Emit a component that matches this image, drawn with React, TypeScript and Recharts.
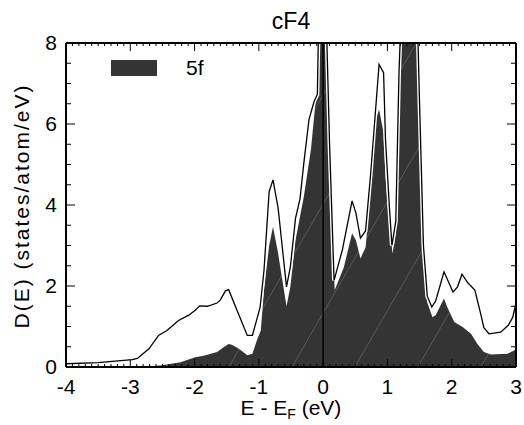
import { ComposedChart, Area, Line, XAxis, YAxis, ReferenceLine } from "recharts";

// total DOS (outline)
const energyTotal = [
  -4.0, -3.5, -2.97, -2.89, -2.71, -2.56, -2.43, -2.25, -2.09, -1.99, -1.92, -1.8, -1.65, -1.6, -1.52, -1.47,
  -1.34, -1.18, -1.1, -0.98, -0.92, -0.84, -0.78, -0.7, -0.57, -0.51, -0.43, -0.36, -0.3, -0.22, -0.14, -0.09,
  -0.06, 0.02, 0.05, 0.1, 0.17, 0.3, 0.45, 0.51, 0.58, 0.66, 0.74, 0.82, 0.87, 0.94, 0.97, 1.03, 1.07, 1.13,
  1.18, 1.22, 1.35, 1.46, 1.5, 1.56, 1.62, 1.69, 1.75, 1.88, 2.02, 2.09, 2.16, 2.25, 2.36, 2.45, 2.5, 2.58,
  2.76, 2.88, 2.95, 3.0,
];
const dosTotal = [
  0.08, 0.11, 0.18, 0.21, 0.45, 0.78, 0.9, 1.15, 1.28, 1.4, 1.51, 1.5, 1.58, 1.65, 1.88, 1.91,
  1.4, 0.78, 0.78, 1.48, 2.39, 4.33, 4.62, 3.92, 1.98, 2.47, 3.67, 4.15, 5.04, 6.11, 6.56, 6.73,
  9.5, 10, 8.5, 5.5, 2.14, 2.9, 4.1, 3.8, 3.18, 3.36, 4.79, 6.44, 7.47, 7.27, 5.61, 3.96, 3.0, 3.6,
  7.27, 9, 10, 9, 6.5, 3.0, 1.75, 1.48, 1.63, 2.35, 1.85, 1.98, 2.29, 2.08, 1.9, 1.32, 0.97, 0.82,
  0.86, 1.03, 1.23, 1.58,
];

// 5f projected DOS (filled)
const energy5f = [
  -4.0, -3.0, -2.8, -2.53, -2.22, -1.99, -1.86, -1.65, -1.55, -1.47, -1.42, -1.31, -1.18, -1.1, -1.03, -0.97,
  -0.92, -0.84, -0.78, -0.7, -0.57, -0.51, -0.43, -0.3, -0.19, -0.12, -0.07, -0.05, 0.02, 0.04, 0.1, 0.18,
  0.32, 0.45, 0.51, 0.58, 0.66, 0.74, 0.82, 0.87, 0.94, 0.97, 1.03, 1.08, 1.13, 1.21, 1.3, 1.44, 1.5, 1.55,
  1.62, 1.7, 1.75, 1.88, 1.93, 2.04, 2.17, 2.3, 2.4, 2.5, 2.61, 2.87, 2.97, 3.0,
];
const dos5f = [
  0, 0, 0.01, 0.04, 0.12, 0.24, 0.28, 0.37, 0.49, 0.57, 0.55, 0.45, 0.29, 0.33, 0.66, 0.9,
  1.9, 3.0, 3.46, 2.8, 1.5, 1.98, 3.13, 4.21, 5.37, 6.52, 7.0, 9, 10, 8.5, 5.0, 1.9,
  2.45, 3.3, 3.13, 2.68, 2.95, 4.37, 6.11, 6.36, 5.78, 4.7, 3.46, 2.8, 3.3, 8.2, 10, 9, 6.5, 2.7,
  1.6, 1.23, 1.28, 1.69, 1.48, 1.11, 0.99, 0.82, 0.57, 0.37, 0.31, 0.33, 0.41, 0.45,
];

const X_MIN = -4;
const X_MAX = 3;
const Y_MIN = 0;
const Y_MAX = 8;
const xMajor = [-4, -3, -2, -1, 0, 1, 2, 3];
const yMajor = [0, 2, 4, 6, 8];

const xMinor: number[] = [];
for (let i = -40; i <= 30; i++) xMinor.push(i / 10);
const yMinor: number[] = [];
for (let i = 0; i <= 16; i++) yMinor.push(i / 2);

const totalData = energyTotal.map((e, i) => ({ e, total: dosTotal[i] }));
const fData = energy5f.map((e, i) => ({ e, f: dos5f[i] }));

const FONT = "'Liberation Sans', Arial, sans-serif";
const isMajor = (v: number, step: number) => Math.abs(v / step - Math.round(v / step)) < 1e-6;

// bottom axis: labels at integers, inward ticks every 0.1
const BottomTick = (p: any) => {
  const v = p.payload.value;
  const major = isMajor(v, 1);
  return (
    <g>
      <path d={`M${p.x},${p.y}v${major ? -8 : -3}`} stroke="#000" strokeWidth={1} fill="none" />
      {major && (
        <text x={p.x} y={p.y + 27} textAnchor="middle" fontSize={21} fontFamily={FONT} fill="#000">
          {Math.round(v)}
        </text>
      )}
    </g>
  );
};

// left axis: labels every 2, inward ticks every 0.5
const LeftTick = (p: any) => {
  const v = p.payload.value;
  const major = isMajor(v, 2);
  return (
    <g>
      <path d={`M${p.x},${p.y}h${major ? 9 : 5}`} stroke="#000" strokeWidth={1} fill="none" />
      {major && (
        <text x={p.x - 9} y={p.y + 7} textAnchor="end" fontSize={21} fontFamily={FONT} fill="#000">
          {Math.round(v)}
        </text>
      )}
    </g>
  );
};

export default function App() {
  return (
    <div style={{ position: "absolute", left: 0, top: 0, width: 524, height: 425 }}>
      <ComposedChart width={524} height={425} margin={{ top: 43, right: 8, left: 0, bottom: 0 }}>
        <defs>
          <pattern id="hatch" patternUnits="userSpaceOnUse" width={63} height={109}>
            <rect width={63} height={109} fill="#343434" />
            <line x1={0} y1={109} x2={63} y2={0} stroke="#7a7a7a" strokeWidth={0.5} />
          </pattern>
        </defs>
        <XAxis
          dataKey="e"
          type="number"
          domain={[X_MIN, X_MAX]}
          allowDataOverflow
          ticks={xMinor}
          interval={0}
          tick={<BottomTick />}
          tickLine={false}
          tickSize={0}
          tickMargin={0}
          height={58}
          stroke="#000"
          strokeWidth={2}
        />
        <YAxis
          type="number"
          domain={[Y_MIN, Y_MAX]}
          allowDataOverflow
          ticks={yMinor}
          interval={0}
          tick={<LeftTick />}
          tickLine={false}
          tickSize={0}
          tickMargin={0}
          width={66}
          stroke="#000"
          strokeWidth={2}
        />
        <Area
          data={fData}
          dataKey="f"
          type="linear"
          fill="url(#hatch)"
          fillOpacity={1}
          stroke="none"
          baseValue={0}
          isAnimationActive={false}
        />
        <Line data={totalData} dataKey="total" type="linear" stroke="#fff" strokeWidth={4} dot={false} isAnimationActive={false} />
        <Line data={totalData} dataKey="total" type="linear" stroke="#000" strokeWidth={1.3} dot={false} isAnimationActive={false} />
        <ReferenceLine x={0} stroke="#000" strokeWidth={1.5} />
        <ReferenceLine y={Y_MAX} stroke="#000" strokeWidth={2} ifOverflow="extendDomain" />
        <ReferenceLine x={X_MAX} stroke="#000" strokeWidth={2} ifOverflow="extendDomain" />
        {xMinor.map((v) => (
          <ReferenceLine
            key={`t${v}`}
            stroke="#000"
            strokeWidth={1}
            ifOverflow="extendDomain"
            segment={[{ x: v, y: Y_MAX }, { x: v, y: Y_MAX - (isMajor(v, 1) ? 0.2 : 0.075) }]}
          />
        ))}
        {yMinor.map((v) => (
          <ReferenceLine
            key={`r${v}`}
            stroke="#000"
            strokeWidth={1}
            ifOverflow="extendDomain"
            segment={[{ x: X_MAX, y: v }, { x: X_MAX - (isMajor(v, 2) ? 0.14 : 0.078), y: v }]}
          />
        ))}
      </ComposedChart>
      <div style={{ position: "absolute", left: 0, width: 582, top: 8, textAlign: "center", fontFamily: FONT, fontSize: 23, lineHeight: "26px" }}>cF4</div>
      <div style={{ position: "absolute", left: 111, top: 60, width: 46, height: 16, background: "#343434" }} />
      <div style={{ position: "absolute", left: 186, top: 56, fontFamily: FONT, fontSize: 21, lineHeight: "24px" }}>5f</div>
      <div style={{ position: "absolute", left: 0, width: 582, top: 396, textAlign: "center", fontFamily: FONT, fontSize: 21, lineHeight: "24px" }}>
        E - E<sub style={{ fontSize: 14, verticalAlign: "-4px" }}>F</sub> (eV)
      </div>
      <div
        style={{
          position: "absolute",
          left: 22,
          top: 206,
          transform: "translate(-50%, -50%) rotate(-90deg)",
          whiteSpace: "nowrap",
          fontFamily: FONT,
          fontSize: 21,
          letterSpacing: 2,
          lineHeight: "24px",
        }}
      >
        D(E) (states/atom/eV)
      </div>
    </div>
  );
}
